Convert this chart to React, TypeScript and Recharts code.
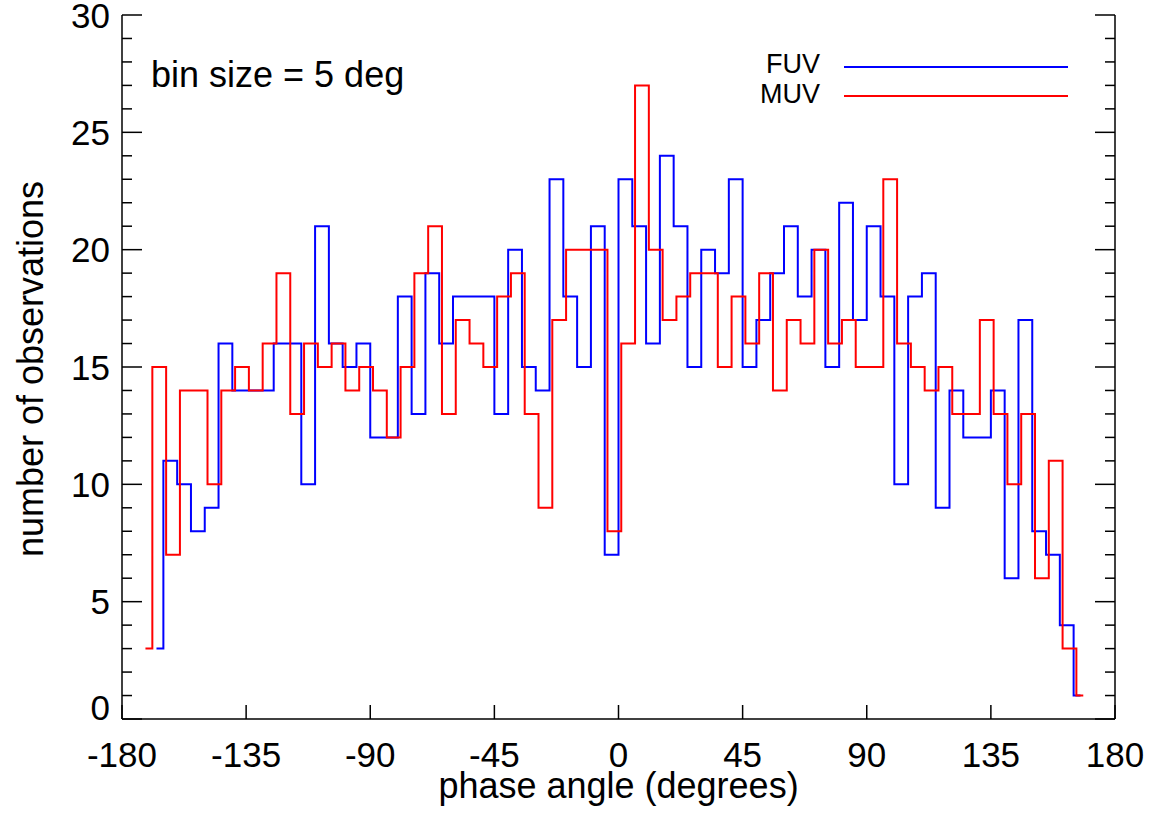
import React from 'react';
import { LineChart, Line, XAxis, YAxis, Label } from 'recharts';

// histogram of observations vs phase angle, 5 deg bins
const BIN_SIZE = 5;
const FUV_FIRST_CENTER = -167.5;
const MUV_FIRST_CENTER = -171.5; // MUV drawn 1 deg right of FUV

const fuvCounts = [
  3, 11, 10, 8, 9, 16, 14, 14, 14, 16,
  16, 10, 21, 16, 15, 16, 12, 12, 18, 13,
  19, 16, 18, 18, 18, 13, 20, 15, 14, 23,
  18, 15, 21, 7, 23, 21, 16, 24, 21, 15,
  20, 19, 23, 15, 17, 19, 21, 18, 20, 15,
  22, 17, 21, 18, 10, 18, 19, 9, 14, 12,
  12, 14, 6, 17, 8, 7, 4, 1,
];

const muvCounts = [
  3, 15, 7, 14, 14, 10, 14, 15, 14, 16,
  19, 13, 16, 15, 16, 14, 15, 14, 12, 15,
  19, 21, 13, 17, 16, 15, 18, 19, 13, 9,
  17, 20, 20, 20, 8, 16, 27, 20, 17, 18,
  19, 19, 15, 18, 16, 19, 14, 17, 16, 20,
  16, 17, 15, 15, 23, 16, 15, 14, 15, 13,
  13, 17, 13, 10, 13, 6, 11, 3, 1,
];

const xTicks = [-180, -135, -90, -45, 0, 45, 90, 135, 180];
const yTicks = [
  0, 1, 2, 3, 4, 5, 6, 7, 8, 9, 10, 11, 12, 13, 14, 15,
  16, 17, 18, 19, 20, 21, 22, 23, 24, 25, 26, 27, 28, 29, 30,
];

const FONT = '"Liberation Sans", Arial, Helvetica, sans-serif';
const FUV_COLOR = '#0000ff';
const MUV_COLOR = '#ff0000';

const toPoints = (start: number, counts: number[]) =>
  counts.map((c, i) => ({ angle: start + i * BIN_SIZE, count: c }));

const fuvData = toPoints(FUV_FIRST_CENTER, fuvCounts);
const muvData = toPoints(MUV_FIRST_CENTER, muvCounts);

const BottomTick = ({ x, y, payload }: any) => (
  <g>
    <line x1={x} y1={y} x2={x} y2={y - 14} stroke="#000" strokeWidth={1.5} />
    <text x={x} y={y + 48} textAnchor="middle" fontSize={35} fontFamily={FONT} fill="#000">
      {payload.value}
    </text>
  </g>
);

const TopTick = ({ x, y }: any) => (
  <line x1={x} y1={y} x2={x} y2={y + 14} stroke="#000" strokeWidth={1.5} />
);

const LeftTick = ({ x, y, payload }: any) => {
  const major = payload.value % 5 === 0;
  return (
    <g>
      <line x1={x} y1={y} x2={x + (major ? 20 : 10)} y2={y} stroke="#000" strokeWidth={1.5} />
      {major && (
        <text
          x={x - 12}
          y={y + (payload.value === 0 ? 1 : 12.5)}
          textAnchor="end"
          fontSize={35}
          fontFamily={FONT}
          fill="#000"
        >
          {payload.value}
        </text>
      )}
    </g>
  );
};

const RightTick = ({ x, y, payload }: any) => {
  const major = payload.value % 5 === 0;
  return <line x1={x} y1={y} x2={x - (major ? 20 : 10)} y2={y} stroke="#000" strokeWidth={1.5} />;
};

export default function App() {
  return (
    <div style={{ position: 'absolute', left: 0, top: 0, width: 1152, height: 817, background: '#fff' }}>
      <LineChart width={1152} height={817} margin={{ top: 15, right: 0, bottom: 0, left: 0 }}>
        <XAxis
          xAxisId="b"
          dataKey="angle"
          type="number"
          domain={[-180, 180]}
          ticks={xTicks}
          interval={0}
          height={98}
          tickSize={0}
          tickMargin={0}
          tickLine={false}
          axisLine={{ stroke: '#000', strokeWidth: 1.5 }}
          tick={(p: any) => <BottomTick {...p} />}
          allowDataOverflow
        >
          <Label
            content={(p: any) => {
              const vb = p.viewBox;
              return (
                <text x={vb.x + vb.width / 2} y={vb.y + 79} textAnchor="middle" fontSize={36} fontFamily={FONT} fill="#000">
                  phase angle (degrees)
                </text>
              );
            }}
          />
        </XAxis>
        <XAxis
          xAxisId="t"
          orientation="top"
          dataKey="angle"
          type="number"
          domain={[-180, 180]}
          ticks={xTicks}
          interval={0}
          height={0}
          tickSize={0}
          tickMargin={0}
          tickLine={false}
          axisLine={{ stroke: '#000', strokeWidth: 1.5 }}
          tick={(p: any) => <TopTick {...p} />}
          allowDataOverflow
        />
        <YAxis
          yAxisId="l"
          type="number"
          domain={[0, 30]}
          ticks={yTicks}
          interval={0}
          width={122}
          tickSize={0}
          tickMargin={0}
          tickLine={false}
          axisLine={{ stroke: '#000', strokeWidth: 1.5 }}
          tick={(p: any) => <LeftTick {...p} />}
          allowDataOverflow
        >
          <Label
            content={(p: any) => {
              const vb = p.viewBox;
              const cx = 43;
              const cy = vb.y + vb.height / 2 + 2;
              return (
                <text
                  x={cx}
                  y={cy}
                  transform={`rotate(-90 ${cx} ${cy})`}
                  textAnchor="middle"
                  fontSize={36}
                  fontFamily={FONT}
                  fill="#000"
                >
                  number of observations
                </text>
              );
            }}
          />
        </YAxis>
        <YAxis
          yAxisId="r"
          orientation="right"
          type="number"
          domain={[0, 30]}
          ticks={yTicks}
          interval={0}
          width={37}
          tickSize={0}
          tickMargin={0}
          tickLine={false}
          axisLine={{ stroke: '#000', strokeWidth: 1.5 }}
          tick={(p: any) => <RightTick {...p} />}
          allowDataOverflow
        />
        <Line
          xAxisId="b"
          yAxisId="l"
          data={fuvData}
          dataKey="count"
          name="FUV"
          type="step"
          stroke={FUV_COLOR}
          strokeWidth={2}
          dot={false}
          activeDot={false}
          isAnimationActive={false}
        />
        <Line
          xAxisId="b"
          yAxisId="l"
          data={muvData}
          dataKey="count"
          name="MUV"
          type="step"
          stroke={MUV_COLOR}
          strokeWidth={2}
          dot={false}
          activeDot={false}
          isAnimationActive={false}
        />
      </LineChart>
      <svg
        width={1152}
        height={817}
        style={{ position: 'absolute', left: 0, top: 0, pointerEvents: 'none' }}
      >
        <text x={151} y={87} fontSize={36} fontFamily={FONT} fill="#000">
          bin size = 5 deg
        </text>
        <text x={820} y={73} textAnchor="end" fontSize={27} fontFamily={FONT} fill="#000">FUV</text>
        <line x1={844} y1={67} x2={1068} y2={67} stroke={FUV_COLOR} strokeWidth={2} />
        <text x={820} y={103} textAnchor="end" fontSize={27} fontFamily={FONT} fill="#000">MUV</text>
        <line x1={844} y1={96} x2={1068} y2={96} stroke={MUV_COLOR} strokeWidth={2} />
      </svg>
    </div>
  );
}
